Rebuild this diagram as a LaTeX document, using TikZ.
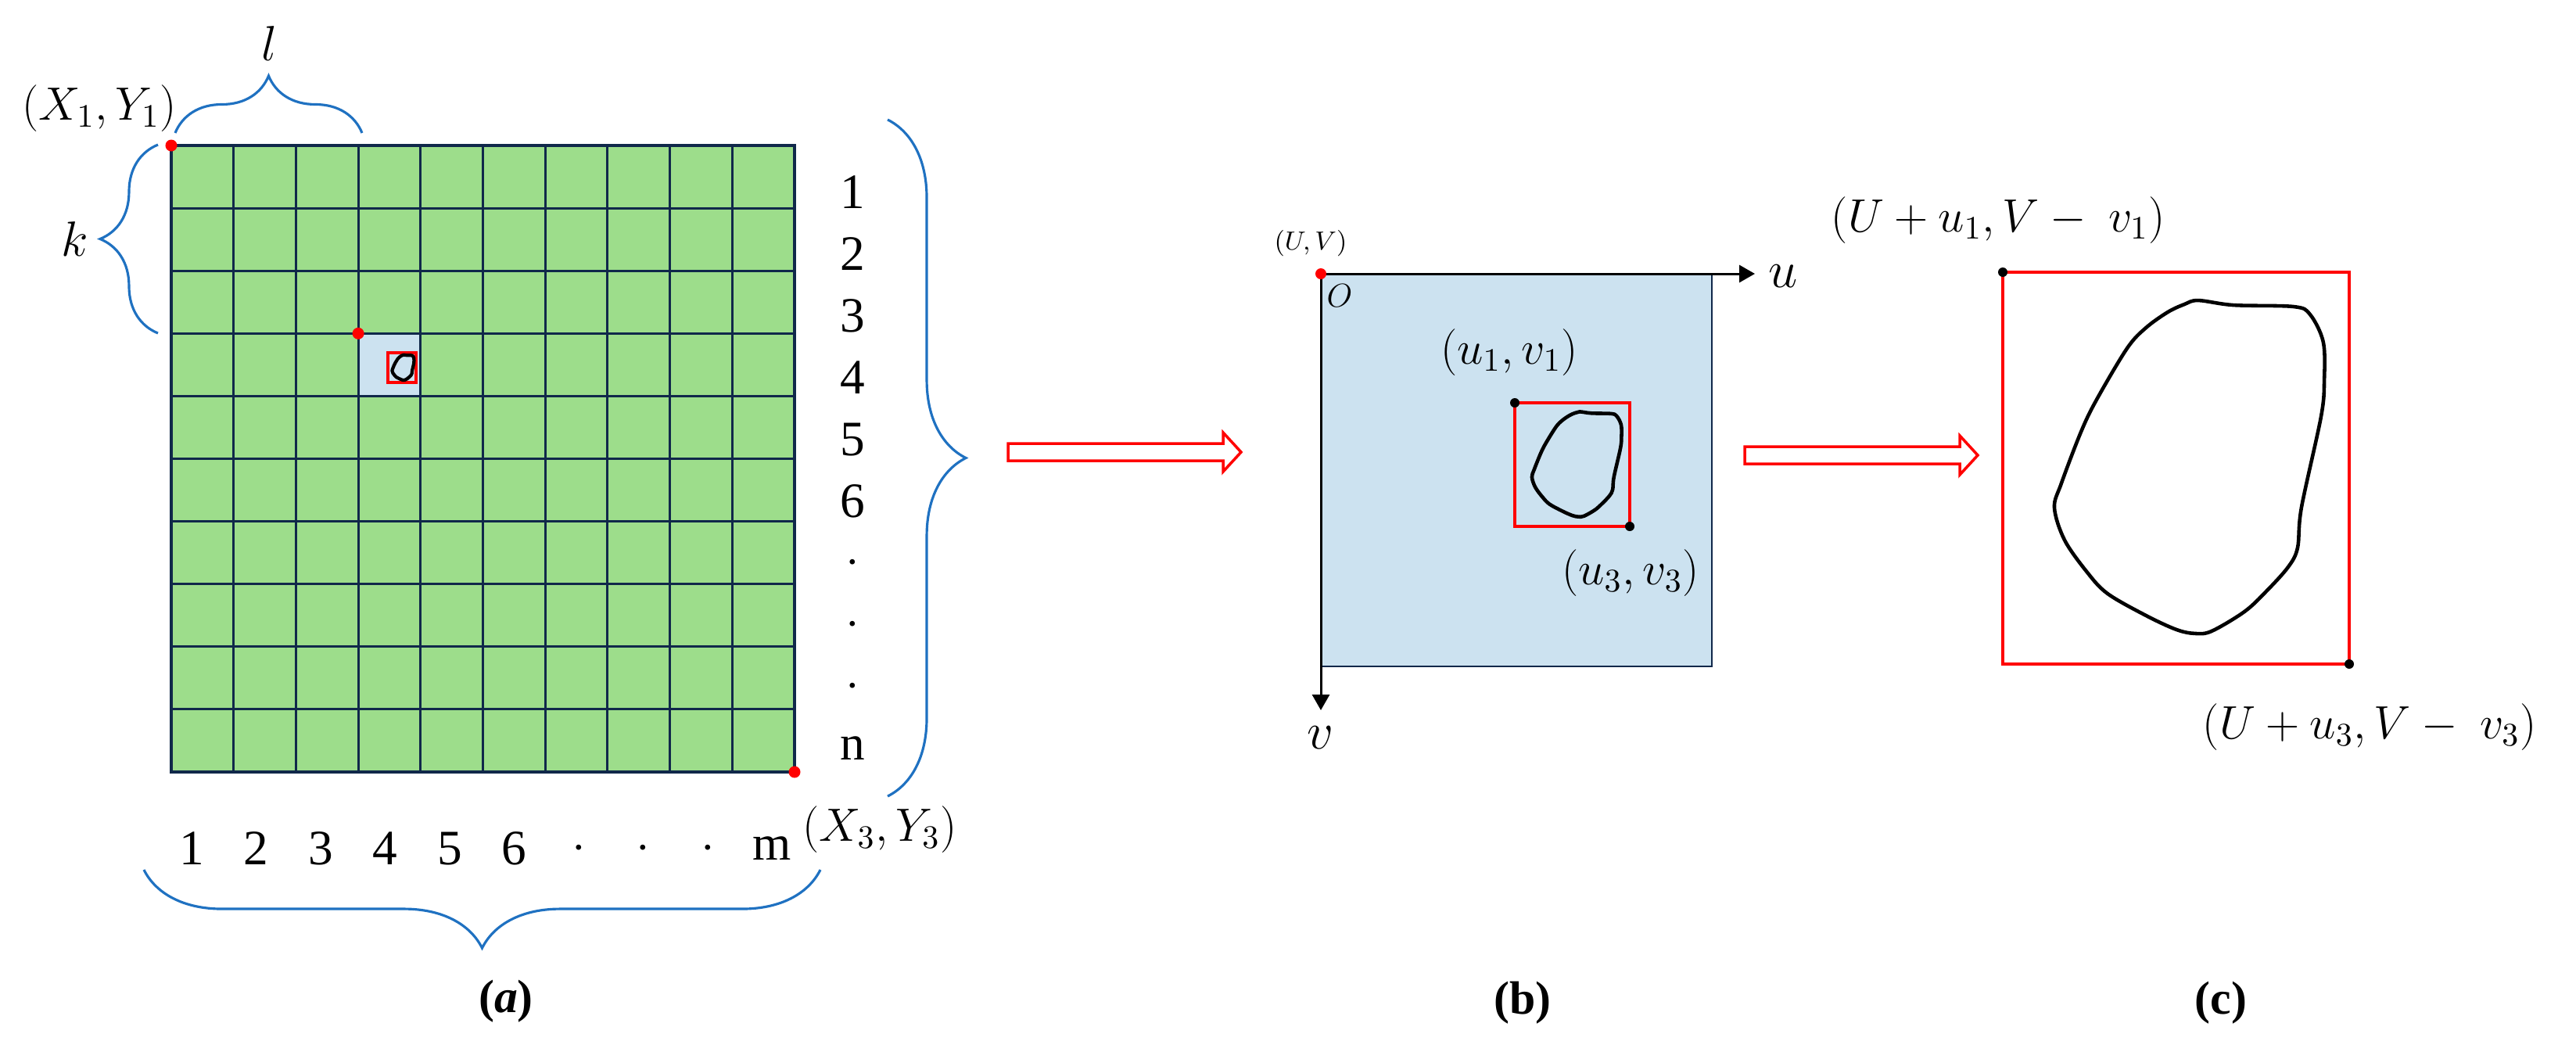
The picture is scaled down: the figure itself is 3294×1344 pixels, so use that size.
\RequirePackage{fix-cm}
\documentclass[tikz,border=0pt]{standalone}
\usepackage{amsmath}
\usepackage{fontspec}
\setmainfont{Liberation Serif}
\usepackage{tikz}
\usetikzlibrary{positioning,arrows.meta,calc,decorations.pathreplacing}

\definecolor{cellgreen}{RGB}{157,221,139}
\definecolor{gridnavy}{RGB}{16,40,74}
\definecolor{paleblue}{RGB}{204,226,240}
\definecolor{braceblue}{RGB}{31,113,193}

\tikzset{
  blob/.pic={
    \draw[line join=round] plot[smooth cycle, tension=0.55] coordinates {
      (0.564,0.072) (0.666,0.084) (0.840,0.088) (0.887,0.108) (0.925,0.178)
      (0.928,0.275) (0.919,0.367) (0.862,0.601) (0.851,0.703) (0.824,0.752)
      (0.761,0.814) (0.698,0.866) (0.603,0.916) (0.555,0.922) (0.501,0.912)
      (0.413,0.876) (0.302,0.820) (0.242,0.764) (0.178,0.683) (0.149,0.601)
      (0.169,0.539) (0.226,0.407) (0.271,0.325) (0.359,0.194) (0.413,0.142)
      (0.476,0.102) (0.524,0.082)};
  }
}

% hollow red arrow from #1 to #2
\newcommand{\hollowarrow}[2]{
  \draw[hollow] ($(#1)+(0,-11)$) -- ($(#2)+(-23,-11)$) -- ($(#2)+(-23,-25)$) -- (#2)
    -- ($(#2)+(-23,25)$) -- ($(#2)+(-23,11)$) -- ($(#1)+(0,11)$) -- cycle;
}

\begin{document}
\begin{tikzpicture}[
  x=0.01cm, y=-0.01cm,
  >={Triangle[length=0.2cm,width=0.22cm]}, % 箭头样式
  gridline/.style={draw=gridnavy, line width=0.85pt},
  curly/.style={draw=braceblue, line width=0.9pt, decorate, decoration={brace, amplitude=#1}},
  reddot/.style={circle, fill=red, inner sep=0, minimum size=0.15cm},
  blackdot/.style={circle, fill=black, inner sep=0, minimum size=0.12cm},
  bigtxt/.style={font=\fontsize{18}{20}\selectfont, inner sep=0},
  mathtxt/.style={font=\fontsize{17}{19}\selectfont, inner sep=0},
  captxt/.style={font=\fontsize{17}{19}\selectfont\bfseries, inner sep=0},
  hollow/.style={draw=red, line width=1pt, fill=white},
  axis/.style={->, line width=0.85pt},
  cropbox/.style={draw=red, line width=1.3pt}
]
\useasboundingbox (0,0) rectangle (3294,1344);

% (a) 网格
\coordinate (gridNW) at (219,186);
\coordinate (gridSE) at (1016,987);
\fill[cellgreen] (gridNW) rectangle (gridSE);
\fill[paleblue] (458.1,426.3) rectangle (537.8,506.4);
\foreach \i in {0,...,10} {
  \draw[gridline] ({219+79.7*\i},186) -- ({219+79.7*\i},987);
  \draw[gridline] (219,{186+80.1*\i}) -- (1016,{186+80.1*\i});
}
\draw[draw=gridnavy, line width=1.1pt] (gridNW) rectangle (gridSE);

% 小目标框
\coordinate (cropA1) at (496,451);
\coordinate (cropA3) at (532,489);
\draw[draw=red, line width=1pt] (cropA1) rectangle (cropA3);
\pic[line width=1.2pt, xscale=36, yscale=38] at (cropA1) {blob};

\node[reddot] (dotX1) at (gridNW) {};
\node[reddot] (dotCell) at (458.1,426.3) {};
\node[reddot] (dotX3) at (gridSE) {};

% 花括号
\coordinate (topL) at (224,170);
\coordinate (topR) at (463,170);
\draw[curly=0.73cm] (topL) -- (topR);
\coordinate (leftB) at (202,426);
\coordinate (leftT) at (202,185);
\draw[curly=0.74cm] (leftB) -- (leftT);
\coordinate (rightT) at (1135,153);
\coordinate (rightB) at (1135,1018);
\draw[curly=1.0cm] (rightT) -- (rightB);
\coordinate (botR) at (1049,1112);
\coordinate (botL) at (184,1112);
\draw[curly=1.0cm] (botR) -- (botL);

% 标注
\node[mathtxt, font=\fontsize{18}{20}\selectfont] (labL) at (344,56) {$l$};
\node[mathtxt, font=\fontsize{18}{20}\selectfont] (labK) at (96,306) {$k$};
\node[mathtxt] (labX1) at (127,139) {$(X_1,Y_1)$};
\node[mathtxt] (labX3) at (1125,1061) {$(X_3,Y_3)$};
\foreach \t [count=\i from 0] in {1,2,3,4,5,6,$\cdot$,$\cdot$,$\cdot$,n}
  \node[bigtxt] (row\i) at (1090,{246+79*\i}) {\t};
\foreach \t [count=\i from 0] in {1,2,3,4,5,6,$\cdot$,$\cdot$,$\cdot$,m}
  \node[bigtxt] (col\i) at ({245+82.5*\i},1085) {\t};
\node[captxt] (capA) at (647,1280) {(\textit{a})};

% 箭头 1
\coordinate (arrA) at (1289,578);
\coordinate (arrAend) at (1587,578);
\hollowarrow{arrA}{arrAend}

% (b) 局部坐标
\coordinate (origin) at (1689,350);
\coordinate (uEnd) at (2244,350);
\coordinate (vEnd) at (1689,908);
\fill[paleblue] (origin) rectangle (2189,852);
\draw[draw=gridnavy, line width=0.6pt] (1689,852) -- (2189,852) -- (2189,350);
\draw[axis] (origin) -- (uEnd);
\draw[axis] (origin) -- (vEnd);
\node[mathtxt, font=\fontsize{19}{21}\selectfont] (labU) at (2280,353) {$u$};
\node[mathtxt, font=\fontsize{19}{21}\selectfont] (labV) at (1688,943) {$v$};
\node[mathtxt, font=\fontsize{9.5}{11}\selectfont] (labUV) at (1676,311) {$(U,V)$};
\node[mathtxt, font=\fontsize{12}{14}\selectfont] (labO) at (1713,378) {$O$};
\node[reddot, minimum size=0.14cm] (dotO) at (origin) {};

\coordinate (cropB1) at (1937,515);
\coordinate (cropB3) at (2084,673);
\draw[cropbox] (cropB1) rectangle (cropB3);
\pic[line width=1.3pt, xscale=147, yscale=158] at (cropB1) {blob};
\node[blackdot] (dotB1) at (cropB1) {};
\node[blackdot] (dotB3) at (cropB3) {};
\node[mathtxt] (labB1) at (1930,451) {$(u_1,v_1)$};
\node[mathtxt] (labB3) at (2085,733) {$(u_3,v_3)$};
\node[captxt] (capB) at (1947,1282) {(b)};

% 箭头 2
\coordinate (arrB) at (2231,582);
\coordinate (arrBend) at (2529,582);
\hollowarrow{arrB}{arrBend}

% (c) 原图坐标
\coordinate (cropC1) at (2561,348);
\coordinate (cropC3) at (3004,849);
\draw[cropbox] (cropC1) rectangle (cropC3);
\pic[line width=1.3pt, xscale=443, yscale=501] at (cropC1) {blob};
\node[blackdot] (dotC1) at (cropC1) {};
\node[blackdot] (dotC3) at (cropC3) {};
\node[mathtxt] (labC1) at (2555,282) {$(U+u_1,V-\ v_1)$};
\node[mathtxt] (labC3) at (3030,930) {$(U+u_3,V-\ v_3)$};
\node[captxt] (capC) at (2840,1282) {(c)};
\end{tikzpicture}
\end{document}
